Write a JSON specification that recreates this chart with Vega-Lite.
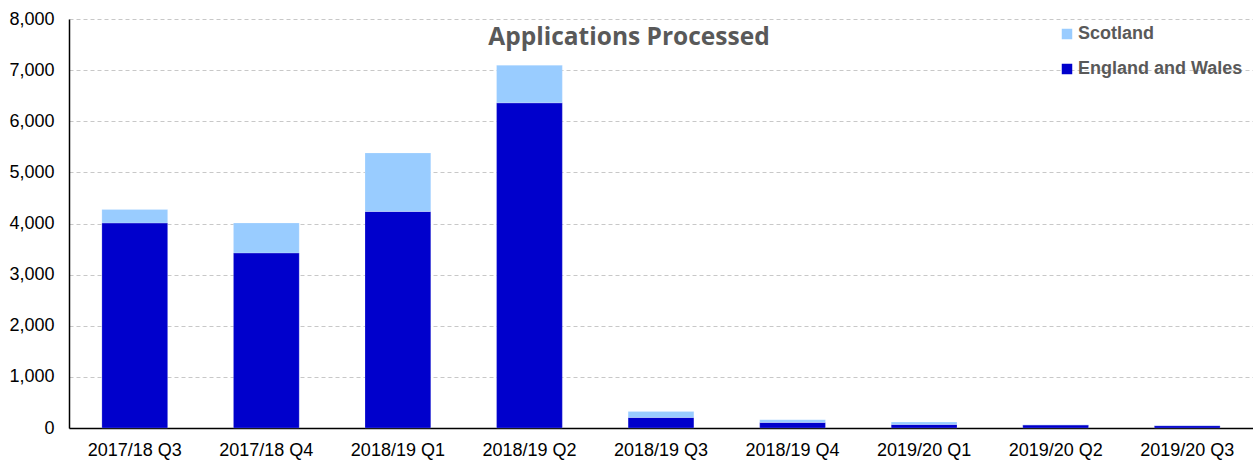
{
  "$schema": "https://vega.github.io/schema/vega-lite/v6.json",
  "width": 1184,
  "height": 409,
  "autosize": {"type": "none"},
  "padding": {"left": 69, "top": 19, "right": 0, "bottom": 35},
  "background": "white",
  "title": {
    "text": "Applications Processed",
    "anchor": "middle",
    "orient": "top",
    "offset": -59,
    "baseline": "alphabetic",
    "dx": -32,
    "font": "Open Sans",
    "fontSize": 24.5,
    "fontWeight": "bold",
    "color": "#595959"
  },
  "data": {
    "values": [
      {"quarter": "2017/18 Q3", "series": "England and Wales", "value": 4010},
      {"quarter": "2017/18 Q3", "series": "Scotland", "value": 265},
      {"quarter": "2017/18 Q4", "series": "England and Wales", "value": 3425},
      {"quarter": "2017/18 Q4", "series": "Scotland", "value": 585},
      {"quarter": "2018/19 Q1", "series": "England and Wales", "value": 4235},
      {"quarter": "2018/19 Q1", "series": "Scotland", "value": 1145},
      {"quarter": "2018/19 Q2", "series": "England and Wales", "value": 6360},
      {"quarter": "2018/19 Q2", "series": "Scotland", "value": 735},
      {"quarter": "2018/19 Q3", "series": "England and Wales", "value": 207},
      {"quarter": "2018/19 Q3", "series": "Scotland", "value": 118},
      {"quarter": "2018/19 Q4", "series": "England and Wales", "value": 110},
      {"quarter": "2018/19 Q4", "series": "Scotland", "value": 53},
      {"quarter": "2019/20 Q1", "series": "England and Wales", "value": 70},
      {"quarter": "2019/20 Q1", "series": "Scotland", "value": 47},
      {"quarter": "2019/20 Q2", "series": "England and Wales", "value": 58},
      {"quarter": "2019/20 Q2", "series": "Scotland", "value": 7},
      {"quarter": "2019/20 Q3", "series": "England and Wales", "value": 45},
      {"quarter": "2019/20 Q3", "series": "Scotland", "value": 5}
    ]
  },
  "mark": {"type": "bar", "stroke": "white", "strokeWidth": 0.5, "strokeOpacity": 0.4},
  "encoding": {
    "x": {
      "field": "quarter",
      "type": "nominal",
      "sort": null,
      "scale": {"paddingInner": 0.5, "paddingOuter": 0.25},
      "axis": {
        "title": null,
        "labelAngle": 0,
        "labelFont": "Liberation Sans",
        "labelFontSize": 18,
        "labelColor": "black",
        "labelPadding": 13,
        "ticks": false,
        "domainColor": "black",
        "domainWidth": 1.5
      }
    },
    "y": {
      "field": "value",
      "type": "quantitative",
      "stack": "zero",
      "scale": {"domain": [0, 8000], "nice": false},
      "axis": {
        "title": null,
        "values": [0, 1000, 2000, 3000, 4000, 5000, 6000, 7000, 8000],
        "format": ",d",
        "labelFont": "Liberation Sans",
        "labelFontSize": 18,
        "labelColor": "black",
        "labelPadding": 15,
        "ticks": false,
        "domainColor": "black",
        "domainWidth": 1.5,
        "gridColor": "#c8c8c8",
        "gridDash": [4, 3],
        "gridWidth": 1
      }
    },
    "color": {
      "field": "series",
      "type": "nominal",
      "scale": {"domain": ["Scotland", "England and Wales"], "range": ["#99CCFF", "#0000CC"]},
      "legend": {
        "title": null,
        "orient": "none",
        "legendX": 989,
        "legendY": 6,
        "symbolType": "square",
        "symbolSize": 110,
        "symbolStrokeWidth": 0,
        "labelFont": "Liberation Sans",
        "labelFontSize": 18,
        "labelFontWeight": "bold",
        "labelColor": "#595959",
        "labelLimit": 300,
        "rowPadding": 17,
        "labelOffset": 2
      }
    },
    "order": {"field": "series", "sort": "ascending"}
  },
  "config": {"view": {"stroke": null}}
}
